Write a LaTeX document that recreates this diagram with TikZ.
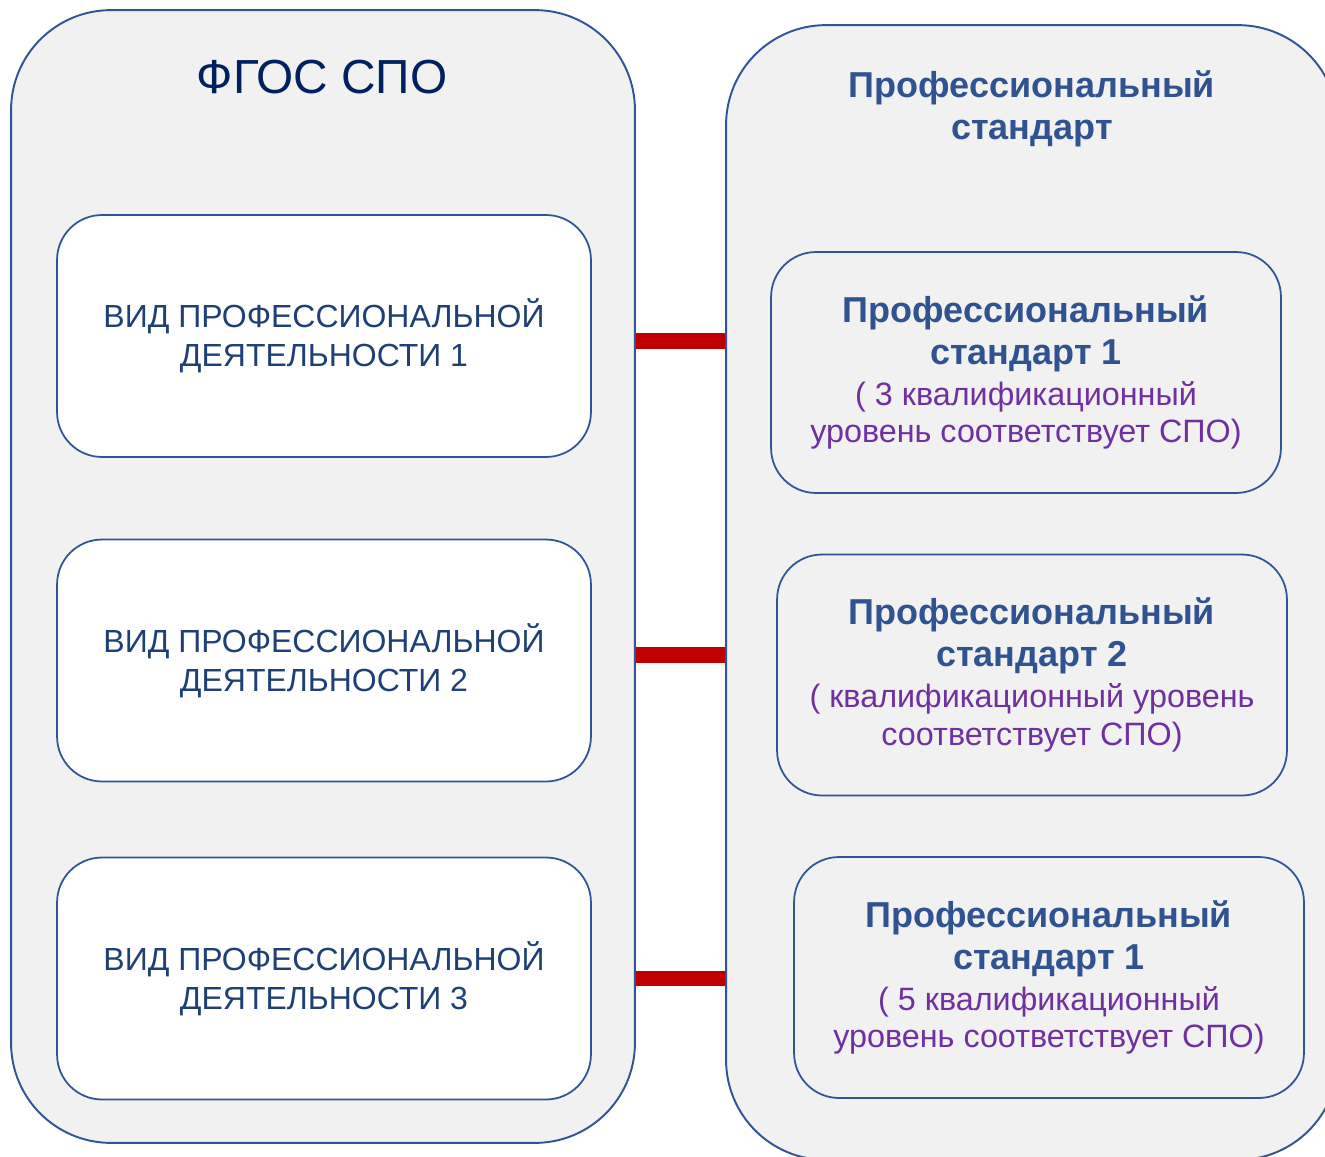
\documentclass[tikz,border=0pt]{standalone}
\usepackage{fontspec}
\setmainfont{Liberation Sans}
\definecolor{frameblue}{HTML}{2F5597}
\definecolor{panelgray}{HTML}{F1F1F1}
\definecolor{titleblue}{HTML}{002060}
\definecolor{headblue}{HTML}{2F5290}
\definecolor{vidblue}{HTML}{1F3F77}
\definecolor{levelpurple}{HTML}{7030A0}
\definecolor{linkred}{HTML}{C00000}
\newcommand\psname[1]{\textcolor{headblue}{\bfseries\fontsize{20.5}{24}\selectfont #1}}
\newcommand\pslevel[1]{\textcolor{levelpurple}{#1}}

\begin{document}
\begin{tikzpicture}[x=0.02cm,y=-0.02cm,
  frame/.style={draw=frameblue,line width=1.1pt,fill=panelgray,rounded corners=2cm},
  vidbox/.style={draw=frameblue,line width=1pt,fill=white,rounded corners=0.9cm,
    minimum width=10.68cm,minimum height=4.84cm,align=center,text=vidblue,
    font=\fontsize{18.2}{22}\selectfont},
  psbox/.style={draw=frameblue,line width=1pt,fill=panelgray,rounded corners=0.9cm,
    minimum width=10.2cm,minimum height=4.82cm,align=center,
    font=\fontsize{18.4}{21.6}\selectfont},
  link/.style={draw=linkred,line width=9pt}]
\useasboundingbox (0,0) rectangle (1325,1156);
\begin{scope}
\clip (0,0) rectangle (1325,1156);
\node[frame,minimum width=12.48cm,minimum height=22.66cm] (fgos) at (323,576.5) {};
\node[frame,minimum width=12.24cm,minimum height=22.7cm] (prof) at (1032,592.5) {};
\end{scope}
\node[text=titleblue,font=\fontsize{27.2}{32}\selectfont] (fgostitle) at (322,77) {ФГОС СПО};
\node[text=headblue,font=\bfseries\fontsize{20.5}{23.8}\selectfont,align=center] (proftitle) at (1032,109) {Профессиональный\\стандарт};
\node[vidbox] (vid1) at (324,336) {ВИД ПРОФЕССИОНАЛЬНОЙ\\ДЕЯТЕЛЬНОСТИ 1};
\node[vidbox] (vid2) at (324,660.5) {ВИД ПРОФЕССИОНАЛЬНОЙ\\ДЕЯТЕЛЬНОСТИ 2};
\node[vidbox] (vid3) at (324,978.5) {ВИД ПРОФЕССИОНАЛЬНОЙ\\ДЕЯТЕЛЬНОСТИ 3};
\node[psbox] (ps1) at (1026,372.5) {\psname{Профессиональный}\\[2.5pt]\psname{стандарт 1}\\[1.5pt]\pslevel{( 3 квалификационный}\\\pslevel{уровень соответствует СПО)}};
\node[psbox] (ps2) at (1032,675) {\psname{Профессиональный}\\[2.5pt]\psname{стандарт 2}\\[1.5pt]\pslevel{( квалификационный уровень}\\\pslevel{соответствует СПО)}};
\node[psbox] (ps3) at (1049,977.5) {\psname{Профессиональный}\\[2.5pt]\psname{стандарт 1}\\[1.5pt]\pslevel{( 5 квалификационный}\\\pslevel{уровень соответствует СПО)}};
\draw[link] ([yshift=-3pt]vid1.east -| fgos.east) -- ([yshift=-3pt]vid1.east -| prof.west);
\draw[link] ([yshift=3pt]vid2.east -| fgos.east) -- ([yshift=3pt]vid2.east -| prof.west);
\draw[link] (vid3.east -| fgos.east) -- (vid3.east -| prof.west);
\end{tikzpicture}
\end{document}
